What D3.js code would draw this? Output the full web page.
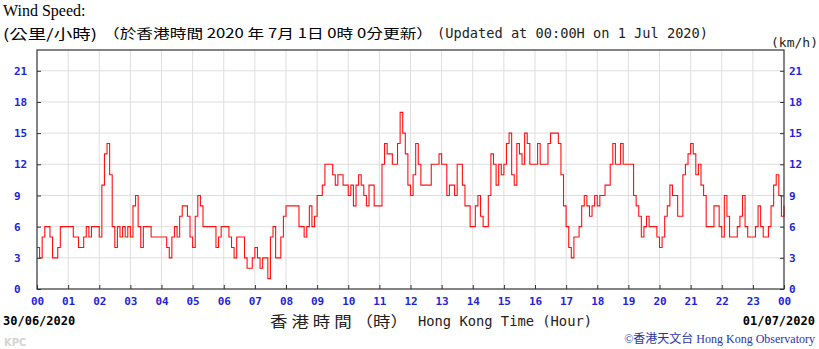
<!DOCTYPE html>
<html>
<head>
<meta charset="utf-8">
<script src="https://cdn.jsdelivr.net/npm/d3@7"></script>
<style>
  body { margin: 0; background: #fff; }
</style>
</head>
<body>
<svg id="chart" width="819" height="349"></svg>
<script>
// tick labels
var hourLabels = ["00","01","02","03","04","05","06","07","08","09","10","11",
                  "12","13","14","15","16","17","18","19","20","21","22","23","00"];
var speedTicks = [0, 3, 6, 9, 12, 15, 18, 21];

// wind speed (km/h), one value every 5 minutes, 30/06/2020 00:00 -> 01/07/2020 00:00
var speed00to05 = [
  4, 3, 5, 6, 6, 5, 3, 3, 4, 6, 6, 6,
  6, 6, 5, 5, 4, 4, 5, 6, 5, 6, 6, 6,
  5, 10, 13, 14, 11, 6, 4, 6, 5, 6, 5, 6,
  5, 8, 9, 6, 4, 6, 6, 6, 5, 5, 5, 5,
  5, 5, 4, 3, 5, 6, 5, 7, 8, 8, 7, 5,
  4, 7, 9, 8, 6, 6, 6, 6, 6, 4, 5, 6
];
var speed06to11 = [
  6, 6, 5, 4, 3, 5, 5, 5, 3, 2, 2, 3,
  4, 3, 2, 3, 3, 1, 5, 6, 3, 3, 5, 7,
  8, 8, 8, 8, 8, 6, 6, 5, 6, 8, 6, 7,
  9, 9, 10, 12, 12, 12, 11, 10, 11, 11, 10, 10,
  9, 10, 8, 10, 11, 10, 9, 8, 10, 10, 8, 8,
  8, 12, 14, 13, 13, 12, 12, 14, 17, 15, 13, 10
];
var speed12to17 = [
  9, 11, 14, 12, 10, 10, 10, 10, 12, 12, 12, 13,
  12, 12, 9, 10, 10, 9, 12, 12, 10, 8, 8, 6,
  6, 8, 9, 7, 6, 6, 9, 13, 12, 10, 12, 11,
  12, 14, 15, 11, 10, 14, 13, 12, 15, 14, 12, 12,
  12, 14, 12, 12, 12, 14, 15, 15, 15, 14, 11, 8,
  6, 4, 3, 5, 5, 6, 8, 9, 8, 7, 8, 9
];
var speed18to23 = [
  8, 9, 9, 10, 10, 12, 14, 12, 12, 14, 12, 12,
  12, 12, 9, 8, 7, 5, 6, 7, 6, 6, 6, 5,
  4, 5, 7, 8, 10, 9, 9, 7, 7, 11, 12, 13,
  14, 13, 11, 12, 10, 9, 6, 6, 6, 8, 8, 6,
  5, 9, 7, 5, 5, 5, 6, 7, 9, 6, 5, 5,
  5, 6, 8, 6, 5, 5, 6, 8, 10, 11, 9, 7,
  8
];

var speed = speed00to05.concat(speed06to11, speed12to17, speed18to23);

var svg = d3.select("#chart");
var plotLeft = 37, plotRight = 784, plotTop = 50, plotBottom = 289;

var x = d3.scaleLinear().domain([0, 24]).range([plotLeft, plotRight]);
var y = d3.scaleLinear().domain([0, 23]).range([plotBottom, plotTop]);

var tickFont = "bold 11px 'DejaVu Sans Mono', monospace";
var blue = "#1f1fdc";

// grid
svg.append("g")
  .selectAll("line")
  .data(d3.range(1, 24))
  .enter()
  .append("line")
  .attr("x1", function(d){ return x(d); })
  .attr("x2", function(d){ return x(d); })
  .attr("y1", plotTop)
  .attr("y2", plotBottom)
  .attr("stroke", "#dedede");

svg.append("g")
  .selectAll("line")
  .data(speedTicks.slice(1))
  .enter()
  .append("line")
  .attr("x1", plotLeft)
  .attr("x2", plotRight)
  .attr("y1", function(d){ return y(d); })
  .attr("y2", function(d){ return y(d); })
  .attr("stroke", "#dedede");

// the wind line
var line = d3.line()
  .x(function(d, i){ return x(i * 5 / 60); })
  .y(function(d){ return y(d); })
  .curve(d3.curveStepAfter);

svg.append("path")
  .datum(speed)
  .attr("d", line)
  .attr("fill", "none")
  .attr("stroke", "#ff1010")
  .attr("stroke-width", 1.1);

// frame
svg.append("rect")
  .attr("x", plotLeft)
  .attr("y", plotTop)
  .attr("width", plotRight - plotLeft)
  .attr("height", plotBottom - plotTop)
  .attr("fill", "none")
  .attr("stroke", "#333")
  .attr("stroke-width", 1.2);

// axes
var gLeft = svg.append("g")
  .attr("transform", "translate(" + plotLeft + ",0)")
  .call(d3.axisLeft(y).tickValues(speedTicks).tickSize(-4).tickPadding(0));
gLeft.selectAll("text").attr("x", 14 - plotLeft).attr("text-anchor", "start");

var gRight = svg.append("g")
  .attr("transform", "translate(" + plotRight + ",0)")
  .call(d3.axisRight(y).tickValues(speedTicks).tickSize(-4).tickPadding(5));

var gBottom = svg.append("g")
  .attr("transform", "translate(0," + plotBottom + ")")
  .call(d3.axisBottom(x).tickValues(d3.range(0, 25))
        .tickFormat(function(d){ return hourLabels[d]; })
        .tickSize(-4).tickPadding(8));

[gLeft, gRight, gBottom].forEach(function(g){
  g.select(".domain").remove();
  g.selectAll("line").attr("stroke", "#333");
  g.selectAll("text").style("font", tickFont).attr("fill", blue);
});

// texts
svg.append("text")
  .attr("x", 3).attr("y", 16)
  .style("font", "16px 'Liberation Serif', serif")
  .text("Wind Speed:");

svg.append("text")
  .attr("x", 3).attr("y", 39)
  .attr("textLength", 94).attr("lengthAdjust", "spacingAndGlyphs")
  .style("font", "14px 'Noto Sans CJK TC', sans-serif")
  .text("(公里/小時)");

svg.append("text")
  .attr("x", 103).attr("y", 38)
  .attr("textLength", 330).attr("lengthAdjust", "spacingAndGlyphs")
  .style("font", "13px 'Noto Sans CJK TC', 'DejaVu Sans Mono', monospace")
  .text("（於香港時間 2020 年 7月  1日  0時  0分更新）");

svg.append("text")
  .attr("x", 437).attr("y", 38)
  .attr("textLength", 271).attr("lengthAdjust", "spacingAndGlyphs")
  .style("font", "13.5px 'DejaVu Sans Mono', monospace")
  .attr("fill", "#222")
  .text("(Updated at 00:00H on 1 Jul 2020)");

svg.append("text")
  .attr("x", 818).attr("y", 47)
  .attr("text-anchor", "end")
  .style("font", "13px 'DejaVu Sans Mono', monospace")
  .attr("fill", "#222")
  .text("(km/h)");

svg.append("text")
  .attr("x", 3).attr("y", 325)
  .style("font", "bold 12px 'DejaVu Sans Mono', monospace")
  .text("30/06/2020");

svg.append("text")
  .attr("x", 815).attr("y", 325)
  .attr("text-anchor", "end")
  .style("font", "bold 12px 'DejaVu Sans Mono', monospace")
  .text("01/07/2020");

svg.append("text")
  .attr("x", 270).attr("y", 327)
  .attr("textLength", 138).attr("lengthAdjust", "spacingAndGlyphs")
  .style("font", "15px 'Noto Sans CJK TC', sans-serif")
  .attr("fill", "#222")
  .text("香 港 時 間 （時）");

svg.append("text")
  .attr("x", 418).attr("y", 326)
  .attr("textLength", 174).attr("lengthAdjust", "spacingAndGlyphs")
  .style("font", "14px 'DejaVu Sans Mono', monospace")
  .attr("fill", "#222")
  .text("Hong Kong Time (Hour)");

svg.append("text")
  .attr("x", 4).attr("y", 346)
  .style("font", "bold 10px 'DejaVu Sans', sans-serif")
  .attr("fill", "#d4d4d4")
  .text("KPC");

svg.append("text")
  .attr("x", 815).attr("y", 343)
  .attr("text-anchor", "end")
  .style("font", "12px 'Liberation Serif', 'Noto Sans CJK TC', serif")
  .attr("fill", "#2b35a8")
  .text("©香港天文台 Hong Kong Observatory");
</script>
</body>
</html>
